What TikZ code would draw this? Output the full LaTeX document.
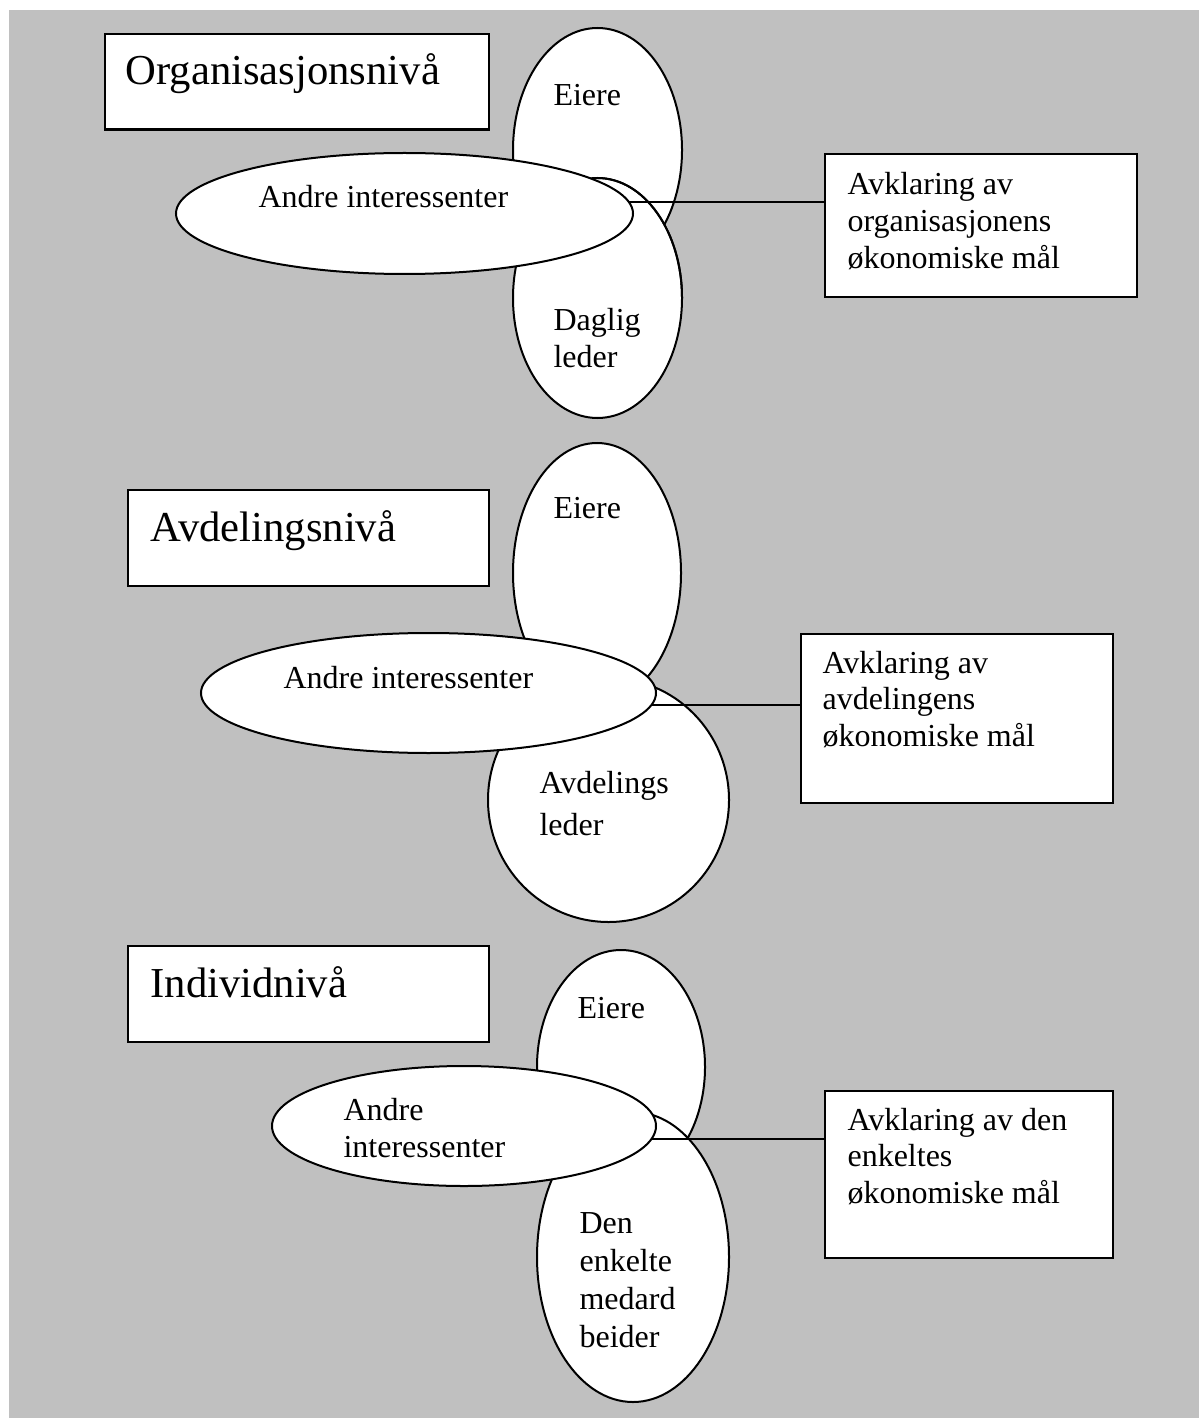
\documentclass[tikz,border=0pt]{standalone}
\usepackage{fontspec}
\setmainfont{Liberation Serif}
\usetikzlibrary{shapes.geometric}

% stacked lines with a fixed baseline distance; the baseline of the box is the first line
\newcommand\linestack[2]{\vtop{\baselineskip=#1\relax\lineskiplimit=-10pt #2}}

\begin{document}
\begin{tikzpicture}[x=0.375pt, y=-0.375pt,
  bubble/.style={ellipse, draw, fill=white, line width=0.75pt, inner sep=0pt, outer sep=0pt},
  levelbox/.style={rectangle, draw, fill=white, line width=0.9pt, inner sep=0pt, outer sep=0pt},
  goalbox/.style={rectangle, draw, fill=white, line width=0.9pt, inner sep=0pt, outer sep=0pt},
  txt/.style={anchor=base west, inner sep=0pt, font=\fontsize{12}{13.8}\selectfont},
  title/.style={anchor=base west, inner sep=0pt, font=\fontsize{16}{18}\selectfont},
  link/.style={draw, line width=0.75pt}]

\useasboundingbox (0,0) rectangle (1199,1418);
\fill[white] (0,0) rectangle (1199,1418);
\fill[fill={rgb,255:red,192;green,192;blue,192}] (9,10) rectangle (1199,1418);

% ---------- Organisasjonsniva ----------
\node[levelbox, minimum width=144pt, minimum height=35.8pt] (lvl1) at (297,81.75) {};
\node[title] (lvl1t) at (125,85) {Organisasjonsnivå};

\node[bubble, minimum width=63.375pt, minimum height=91.5pt] (eiere1) at (597.5,150) {};
\node[bubble, minimum width=63.375pt, minimum height=90pt] (daglig) at (597.5,298) {};
\node[bubble, minimum width=171.375pt, minimum height=45.375pt] (andre1) at (404.5,213.5) {};
\draw[line width=0.75pt] (daglig.north) arc[start angle=90, end angle=0, x radius=31.6875pt, y radius=45pt];

\node[txt] (eiere1t) at (553,106) {Eiere};
\node[txt] (daglight) at (553,331) {\linestack{13.5pt}{\hbox{Daglig}\hbox{leder}}};
\node[txt] (andre1t) at (258,208) {Andre interessenter};

\node[goalbox, minimum width=117pt, minimum height=53.625pt] (goal1) at (981,225.5) {};
\node[txt] (goal1t) at (847,195) {\linestack{13.8pt}{\hbox{Avklaring av}\hbox{organisasjonens}\hbox{økonomiske mål}}};
\draw[link] (andre1.3) -- (andre1.3 -| goal1.west);

% ---------- Avdelingsniva ----------
\node[levelbox, minimum width=135.375pt, minimum height=36pt] (lvl2) at (308.5,538) {};
\node[title] (lvl2t) at (150,541) {Avdelingsnivå};

\node[bubble, minimum width=63pt, minimum height=97.5pt] (eiere2) at (597,573) {};
\node[bubble, minimum width=90.375pt, minimum height=91.5pt] (avdleder) at (608.5,800) {};
\node[bubble, minimum width=170.625pt, minimum height=45pt] (andre2) at (428.5,693) {};

\node[txt] (eiere2t) at (553,518) {Eiere};
\node[txt] (avdledert) at (539,793) {\linestack{16pt}{\hbox{Avdelings}\hbox{leder}}};
\node[txt] (andre2t) at (283,688) {Andre interessenter};

\node[goalbox, minimum width=117pt, minimum height=63.375pt] (goal2) at (957,718.5) {};
\node[txt] (goal2t) at (822,673) {\linestack{13.8pt}{\hbox{Avklaring av}\hbox{avdelingens}\hbox{økonomiske mål}}};
\draw[link] (andre2.-3.5) -- (andre2.-3.5 -| goal2.west);

% ---------- Individniva ----------
\node[levelbox, minimum width=135.375pt, minimum height=36pt] (lvl3) at (308.5,994) {};
\node[title] (lvl3t) at (150,997) {Individnivå};

\node[bubble, minimum width=63pt, minimum height=87.75pt] (eiere3) at (621,1067) {};
\node[bubble, minimum width=72pt, minimum height=108.75pt] (medarb) at (633,1257) {};
\node[bubble, minimum width=144pt, minimum height=45pt] (andre3) at (464,1126) {};

\node[txt] (eiere3t) at (577,1018) {Eiere};
\node[txt] (medarbt) at (579,1233) {\linestack{14.25pt}{\hbox{Den}\hbox{enkelte}\hbox{medard}\hbox{beider}}};
\node[txt] (andre3t) at (343,1120) {\linestack{13.9pt}{\hbox{Andre}\hbox{interessenter}}};

\node[goalbox, minimum width=108pt, minimum height=62.625pt] (goal3) at (969,1174.5) {};
\node[txt] (goal3t) at (847,1130) {\linestack{13.8pt}{\hbox{Avklaring av den}\hbox{enkeltes}\hbox{økonomiske mål}}};
\draw[link] (andre3.-4) -- (andre3.-4 -| goal3.west);

\end{tikzpicture}
\end{document}
